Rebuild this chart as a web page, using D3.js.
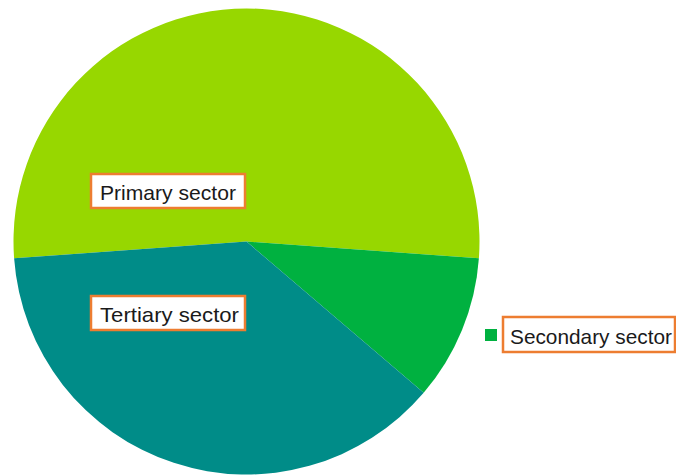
<!DOCTYPE html>
<html>
<head>
<meta charset="utf-8">
<script src="https://cdn.jsdelivr.net/npm/d3@7"></script>
<style>
  html, body { margin: 0; padding: 0; background: #fff; }
  svg { display: block; }
  text { font-family: "Liberation Sans", Arial, sans-serif; fill: #1a1a1a; }
</style>
</head>
<body>
<svg id="chart" width="676" height="475"></svg>
<script>
// Share of each economic sector (percent)
const categories = ["Primary sector", "Secondary sector", "Tertiary sector"];
const shares = [52.3, 10.1, 37.6];
const colors = ["#97D700", "#00B140", "#008C88"];

const width = 676, height = 475;
const cx = 246.5, cy = 241.5, radius = 233;

const svg = d3.select("#chart");

const total = d3.sum(shares);
// Rotate so the first slice is centred on the top of the circle
const start = -Math.PI * shares[0] / total;

const pie = d3.pie()
  .sort(null)
  .value(d => d.value)
  .startAngle(start)
  .endAngle(start + 2 * Math.PI);

const data = categories.map((c, i) => ({ name: c, value: shares[i], color: colors[i] }));
const arcs = pie(data);

const arc = d3.arc().innerRadius(0).outerRadius(radius);

const g = svg.append("g").attr("transform", `translate(${cx},${cy})`);
g.selectAll("path")
  .data(arcs)
  .join("path")
  .attr("d", arc)
  .attr("fill", d => d.data.color);

// Data label boxes (x, y, width, height of box; text x and baseline)
const labelLayout = {
  "Primary sector":   { box: [91, 174, 154, 34], text: [100, 200], tl: 136, key: false },
  "Tertiary sector":  { box: [91, 296, 154, 34], text: [100, 322], tl: 139, key: false },
  "Secondary sector": { box: [503, 317, 172, 35], text: [510, 344], tl: 162, key: true }
};

const labels = svg.append("g");
data.forEach(d => {
  const L = labelLayout[d.name];
  const lg = labels.append("g");
  if (L.key) {
    lg.append("rect")
      .attr("x", 485).attr("y", 329)
      .attr("width", 12).attr("height", 12)
      .attr("fill", d.color);
  }
  lg.append("rect")
    .attr("x", L.box[0]).attr("y", L.box[1])
    .attr("width", L.box[2]).attr("height", L.box[3])
    .attr("fill", "#fff")
    .attr("stroke", "#ED7D31")
    .attr("stroke-width", 2.5);
  lg.append("text")
    .attr("x", L.text[0]).attr("y", L.text[1])
    .attr("font-size", 21)
    .attr("textLength", L.tl)
    .attr("lengthAdjust", "spacingAndGlyphs")
    .text(d.name);
});
</script>
</body>
</html>
